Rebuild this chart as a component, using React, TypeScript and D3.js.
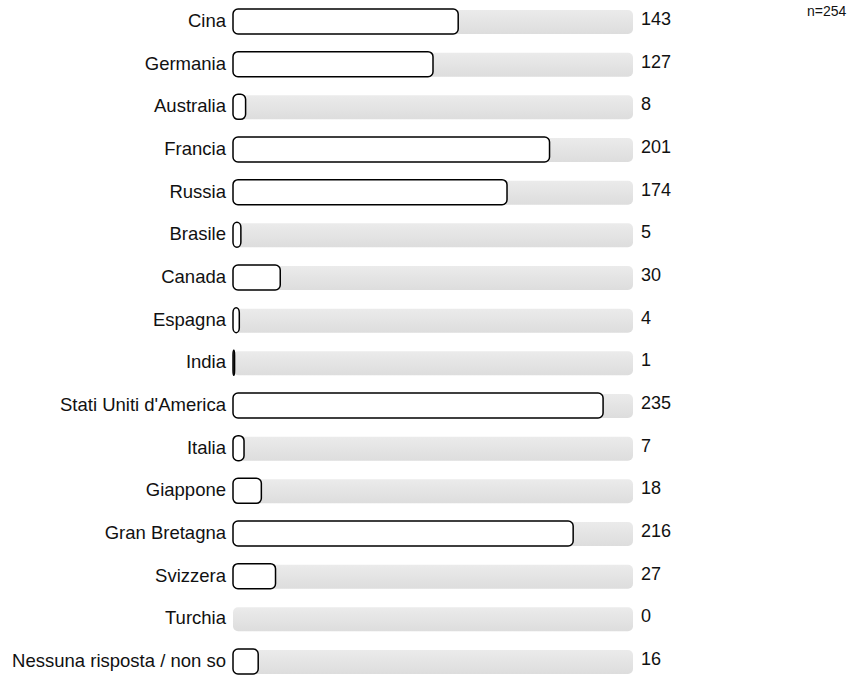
import { useEffect, useRef } from "react"
import * as d3 from "d3"

const categories = [
	"Cina",
	"Germania",
	"Australia",
	"Francia",
	"Russia",
	"Brasile",
	"Canada",
	"Espagna",
	"India",
	"Stati Uniti d'America",
	"Italia",
	"Giappone",
	"Gran Bretagna",
	"Svizzera",
	"Turchia",
	"Nessuna risposta / non so",
]
const counts = [143, 127, 8, 201, 174, 5, 30, 4, 1, 235, 7, 18, 216, 27, 0, 16]
const total = 254

const App = () => {
	const svgRef = useRef(null)

	useEffect(() => {
		const svg = d3.select(svgRef.current)
		svg.selectAll("*").remove()

		const width = 867
		const height = 677
		const font = "Liberation Sans, Arial, sans-serif"

		svg.attr("width", width).attr("height", height)

		// gradient for the background track
		const defs = svg.append("defs")
		const grad = defs
			.append("linearGradient")
			.attr("id", "track")
			.attr("x1", 0)
			.attr("y1", 0)
			.attr("x2", 0)
			.attr("y2", 1)
		grad.append("stop").attr("offset", "0%").attr("stop-color", "#ebebeb")
		grad.append("stop").attr("offset", "100%").attr("stop-color", "#dddddd")

		const x = d3.scaleLinear().domain([0, total]).range([233, 633])
		const y = d3
			.scaleBand()
			.domain(categories)
			.range([9, 674])
			.paddingInner(0.414)
			.paddingOuter(0)

		const rows = svg
			.selectAll("g.row")
			.data(categories.map((c, i) => ({ c, v: counts[i] })))
			.enter()
			.append("g")
			.attr("class", "row")
			.attr("transform", (d) => "translate(0," + y(d.c) + ")")

		const bh = y.bandwidth()

		rows
			.append("rect")
			.attr("x", x(0))
			.attr("y", 1)
			.attr("width", x(total) - x(0))
			.attr("height", bh - 1)
			.attr("rx", 5)
			.attr("fill", "url(#track)")

		rows
			.filter((d) => d.v > 0)
			.append("rect")
			.attr("x", x(0))
			.attr("y", 0)
			.attr("width", (d) => x(d.v) - x(0))
			.attr("height", bh)
			.attr("rx", 5)
			.attr("fill", "white")
			.attr("stroke", "black")
			.attr("stroke-width", 1.5)

		rows
			.append("text")
			.attr("x", 226)
			.attr("y", bh / 2 + 5.5)
			.attr("text-anchor", "end")
			.style("font-family", font)
			.style("font-size", "18.5px")
			.attr("fill", "#111")
			.text((d) => d.c)

		rows
			.append("text")
			.attr("x", 641)
			.attr("y", bh / 2 + 3.5)
			.style("font-family", font)
			.style("font-size", "18px")
			.attr("fill", "#111")
			.text((d) => d.v)

		svg
			.append("text")
			.attr("x", 807)
			.attr("y", 16)
			.style("font-family", font)
			.style("font-size", "14px")
			.attr("fill", "#111")
			.text("n=" + total)
	}, [])

	return <svg ref={svgRef} style={{ position: "absolute", left: 0, top: 0 }}></svg>
}

export default App
